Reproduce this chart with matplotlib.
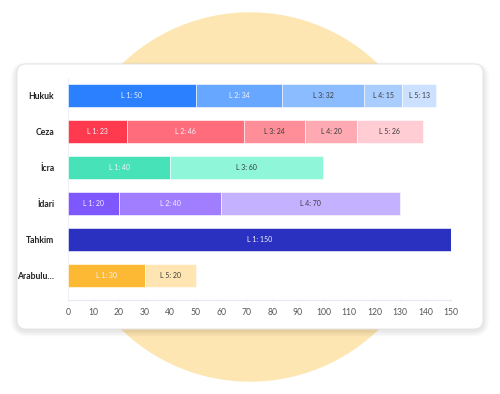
import matplotlib.pyplot as plt
from matplotlib.patches import Circle, FancyBboxPatch

plt.rcParams['font.family'] = ['Lato', 'DejaVu Sans']

# categories (top to bottom) and the stacked segments of each
categories = ["Hukuk", "Ceza", "İcra", "İdari", "Tahkim", "Arabulu…"]
segments = [
    [("L 1", 50), ("L 2", 34), ("L 3", 32), ("L 4", 15), ("L 5", 13)],
    [("L 1", 23), ("L 2", 46), ("L 3", 24), ("L 4", 20), ("L 5", 26)],
    [("L 1", 40), ("L 3", 60)],
    [("L 1", 20), ("L 2", 40), ("L 4", 70)],
    [("L 1", 150)],
    [("L 1", 30), ("L 5", 20)],
]
colors = [
    ["#2b80ff", "#67a7ff", "#8bbcff", "#a9cdff", "#cce1ff"],
    ["#ff3a4f", "#ff6c7b", "#ff8e99", "#ffaab3", "#ffcdd3"],
    ["#48e2b8", "#8ff6d9"],
    ["#7f57ff", "#a17eff", "#c4b1ff"],
    ["#2a30c0"],
    ["#fdb934", "#ffe5b1"],
]
xticks = list(range(0, 151, 10))

W, H = 500, 394
fig = plt.figure(figsize=(W / 100, H / 100), dpi=100)

# background: yellow circle + white card with soft shadow
bg = fig.add_axes([0, 0, 1, 1])
bg.set_xlim(0, W)
bg.set_ylim(H, 0)
bg.axis('off')
bg.add_patch(Circle((250, 197), 184, color="#fde6b1", zorder=0))
for i in range(8, 0, -1):
    bg.add_patch(FancyBboxPatch((17 - i * 0.8, 64 - i * 0.5 + 2), 466 + i * 1.6, 265 + i * 1.2,
                                boxstyle="round,pad=0,rounding_size=%f" % (9 + i),
                                fc="#000000", ec="none", alpha=0.012, zorder=1))
bg.add_patch(FancyBboxPatch((17, 64), 466, 265, boxstyle="round,pad=0,rounding_size=9",
                            fc="white", ec="#e2e2e2", lw=0.6, zorder=2))

# chart
ax = fig.add_axes([68 / W, 1 - 300 / H, (451 - 68) / W, (300 - 78) / H])
ax.set_facecolor("none")
for row, (segs, cols) in enumerate(zip(segments, colors)):
    left = 0
    for (lab, val), c in zip(segs, cols):
        ax.barh(row, val, left=left, height=0.64, color=c, edgecolor="white",
                linewidth=0.4, zorder=3)
        tc = "#f4f4ff" if lab in ("L 1", "L 2") else "#3a3a3a"
        ax.text(left + val / 2, row, f"{lab}: {val}", ha="center", va="center",
                fontsize=5.0, color=tc, zorder=4)
        left += val

ax.set_ylim(5.69, -0.5)
ax.set_xlim(0, 150)
ax.set_yticks(range(len(categories)))
ax.set_yticklabels(categories, fontsize=6.2, fontweight="bold", color="#222222")
ax.set_xticks(xticks)
ax.set_xticklabels([str(t) for t in xticks], fontsize=6.2, color="#555555")
ax.tick_params(axis='y', length=0, pad=10)
ax.tick_params(axis='x', length=2, width=0.6, color="#e4e9f2", pad=5, direction="inout")
for s in ("top", "right"):
    ax.spines[s].set_visible(False)
ax.spines["left"].set_color("#edf1f7")
ax.spines["left"].set_linewidth(0.8)
ax.spines["bottom"].set_color("#e4e9f2")
ax.spines["bottom"].set_linewidth(0.8)

fig.savefig("out.png", dpi=100)
